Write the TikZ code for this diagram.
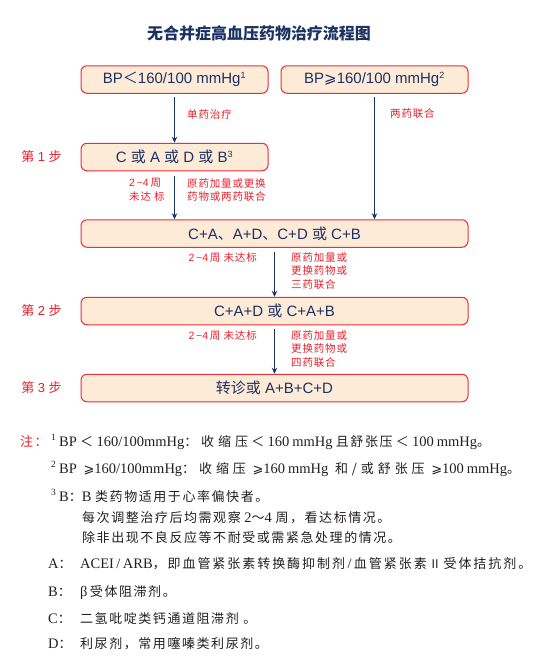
\documentclass[tikz,border=0pt]{standalone}
\usepackage{fontspec}
\setmainfont{Liberation Sans}
\newfontfamily\zh{Noto Sans CJK SC}
\newfontfamily\zhsp[LetterSpace=8]{Noto Sans CJK SC}
\newfontfamily\zhnf[LetterSpace=12]{Noto Sans CJK SC}
\newfontfamily\zhwf[LetterSpace=30]{Noto Sans CJK SC}
\newfontfamily\zhaf[LetterSpace=15]{Noto Sans CJK SC}
\newfontfamily\tms{Liberation Serif}
\newfontfamily\dvsf{DejaVu Sans}
\newcommand{\zhn}{\zhnf\fontsize{13}{15}\selectfont}
\newcommand{\zhw}{\zhwf\fontsize{13}{15}\selectfont}
\newcommand{\zha}{\zhaf\fontsize{13}{15}\selectfont}
\newcommand{\dvs}{\dvsf\fontsize{13}{15}\selectfont}
\usetikzlibrary{arrows.meta}
\definecolor{navy}{HTML}{1C3263}
\definecolor{boxred}{HTML}{E5323A}
\definecolor{boxfill}{HTML}{FDEBD8}
\definecolor{labred}{HTML}{E8202A}
\definecolor{notetext}{HTML}{231F20}
\tikzset{
  box/.style={draw=boxred, fill=boxfill, rounded corners=6pt, line width=1pt,
    text=navy, font=\fontsize{15}{17}\selectfont, inner sep=0pt, minimum height=27.5pt},
  smallbox/.style={box, minimum width=187pt},
  widebox/.style={box, minimum width=387pt},
  arr/.style={draw=navy, line width=1.1pt, -{Stealth[length=6pt,width=5.5pt]}},
  lab/.style={text=labred, font=\zhsp\fontsize{10.5}{13.5}\selectfont, inner sep=0pt, align=left},
  steplab/.style={text=labred, font=\fontsize{13}{15}\selectfont, inner sep=0pt},
  note/.style={anchor=base west, inner sep=0pt, text=notetext, font=\tms\fontsize{14.5}{16}\selectfont},
  supnote/.style={anchor=base west, inner sep=0pt, text=notetext, font=\tms\fontsize{9.5}{10}\selectfont},
  titlestyle/.style={text=navy, font=\zh\bfseries\fontsize{16}{18}\selectfont, inner sep=0pt}
}
\begin{document}
\begin{tikzpicture}[x=1pt,y=-1pt]
\useasboundingbox (0,0) rectangle (546,665);
\fill[white] (0,0) rectangle (546,665);

\node[titlestyle] (title) at (259,33) {无合并症高血压药物治疗流程图};

% boxes
\node[smallbox] (b1) at (174.5,79.5) {BP{\zh ＜}160/100 mmHg\textsuperscript{\fontsize{9}{9}\selectfont 1}};
\node[smallbox] (b2) at (374.5,79.5) {BP{\dvsf ⩾}160/100 mmHg\textsuperscript{\fontsize{9}{9}\selectfont 2}};
\node[smallbox] (s1) at (174.5,157) {C {\zh 或} A {\zh 或} D {\zh 或} B\textsuperscript{\fontsize{9}{9}\selectfont 3}};
\node[widebox] (c2) at (274.5,233.5) {C+A{\zh 、}A+D{\zh 、}C+D {\zh 或} C+B};
\node[widebox] (s2) at (274.5,311) {C+A+D {\zh 或} C+A+B};
\node[widebox] (s3) at (274.5,388) {{\zh 转诊或} A+B+C+D};

% step labels
\node[steplab] (st1) at (41.5,157) {{\zh 第} 1 {\zh 步}};
\node[steplab] (st2) at (41.5,311) {{\zh 第} 2 {\zh 步}};
\node[steplab] (st3) at (41.5,388) {{\zh 第} 3 {\zh 步}};

% arrows
\draw[arr, shorten <=3pt] (b1.south) -- (s1.north);
\draw[arr, shorten <=3pt] (b2.south) -- (b2.south |- c2.north);
\draw[arr, shorten <=5pt] (s1.south) -- (s1.south |- c2.north);
\draw[arr, shorten <=4pt] (c2.south) -- (s2.north);
\draw[arr, shorten <=4pt] (s2.south) -- (s3.north);

% arrow labels
\node[lab, anchor=west] (l1) at (187,114) {单药治疗};
\node[lab, anchor=west] (l2) at (390,114) {两药联合};
\node[lab, anchor=north west] (l3) at (129,178) {{\rmfamily 2\,\textasciitilde 4\,}周\\未达 标};
\node[lab, anchor=north west] (l4) at (187,178) {原药加量或更换\\药物或两药联合};
\node[lab, anchor=east] (l5) at (257,258) {{\rmfamily 2\,\textasciitilde 4\,}周 未达标};
\node[lab, anchor=north west] (l6) at (291,252) {原药加量或\\更换药物或\\三药联合};
\node[lab, anchor=east] (l7) at (257,336) {{\rmfamily 2\,\textasciitilde 4\,}周 未达标};
\node[lab, anchor=north west] (l8) at (291,330) {原药加量或\\更换药物或\\四药联合};

% notes
\node[note, text=labred, font=\zhn] (zhu) at (20,446) {注：};
\node[supnote] (sup1) at (51,440) {1};
\node[note] (n1) at (59,446) {\makebox[431pt][s]{BP {\zhn ＜} 160/100mmHg{\zhw ：收缩压} {\zhn ＜} 160\kern3pt mmHg {\zhn 且舒张压} {\zhn ＜} 100\kern3pt mmHg{\zhn 。}}};
\node[supnote] (sup2) at (51,467) {2};
\node[note] (n2) at (59,473) {\makebox[461pt][s]{BP {\dvs ⩾}160/100mmHg{\zhw ：收缩压} {\dvs ⩾}160\kern3pt mmHg {\zhw 和/或舒张压} {\dvs ⩾}100\kern3pt mmHg{\zhn 。}}};
\node[supnote] (sup3) at (51,495) {3};
\node[note] (n3) at (59,501) {B{\zhn ：}B {\zhn 类药物适用于心率偏快者。}};
\node[note] (n4) at (82,522) {{\zhn 每次调整治疗后均需观察} 2{\zh\fontsize{13}{15}\selectfont ～}4 {\zhn 周，看达标情况。}};
\node[note] (n5) at (82,542) {{\zhn 除非出现不良反应等不耐受或需紧急处理的情况。}};
\node[note] (ka) at (48,568) {A{\zhn ：}};
\node[note] (na) at (80,568) {ACEI\,/\,ARB{\zha ，即血管紧张素转换酶抑制剂}\,/\,{\zha 血管紧张素}\,{\zh\fontsize{12}{15}\selectfont Ⅱ}\,{\zha 受体拮抗剂。}};
\node[note] (kb) at (48,596) {B{\zhn ：}};
\node[note] (nb) at (80,596) {β\,{\zhn 受体阻滞剂。}};
\node[note] (kc) at (48,623) {C{\zhn ：}};
\node[note] (nc) at (80,623) {{\zhn 二氢吡啶类钙通道阻滞剂 。}};
\node[note] (kd) at (48,648) {D{\zhn ：}};
\node[note] (nd) at (80,648) {{\zhn 利尿剂，常用噻嗪类利尿剂。}};
\end{tikzpicture}
\end{document}
